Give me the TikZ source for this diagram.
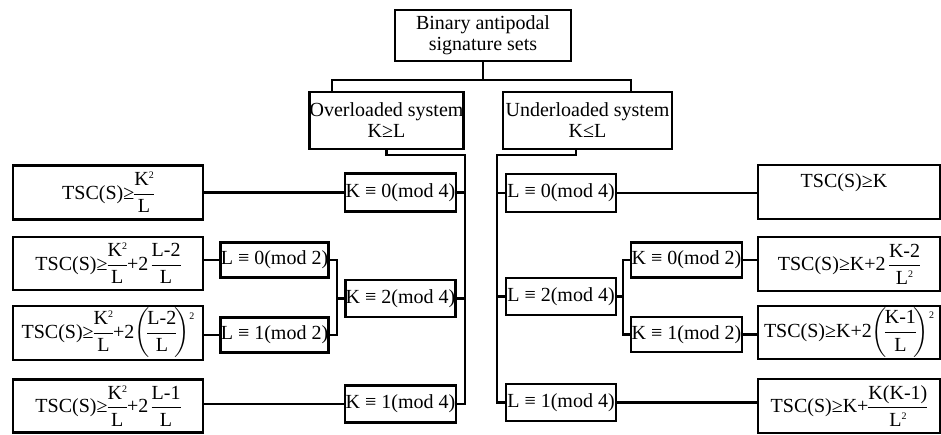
\documentclass[tikz,border=0pt]{standalone}
\usepackage{fix-cm}
\usepackage{amsmath}
\usepackage{fontspec}
\setmainfont{Liberation Serif}
\newcommand\fsz{\fontsize{20}{21}\selectfont}
\newcommand\mytx[1]{\text{#1}}
\newcommand\myfr[2]{{\dfrac{\text{#1}}{\text{#2}}}}
\newcommand\mysq{\raisebox{0.75ex}{\fontsize{10}{10}\selectfont 2}}
\newcommand\mypar[1]{{\biggl(\mkern-2mu#1\mkern-2mu\biggr)}\mbox{\raisebox{19pt}[0pt][0pt]{\fontsize{10}{10}\selectfont 2}}}
\tikzset{
  bx/.style={draw, line width=2.8pt, inner sep=0pt, align=center, font=\fsz},
  ln/.style={line width=2.8pt},
  txt/.style={inner sep=0pt, font=\fsz},
}
\begin{document}
\nulldelimiterspace=0pt
\begin{tikzpicture}[x=1pt,y=-1pt]
\useasboundingbox (0,0) rectangle (941,434);
% top level
\node[bx, minimum width=176pt, minimum height=51pt] (top) at (483,35.5) {Binary antipodal\\signature sets};
\node[bx, minimum width=151pt, minimum height=57pt] (over) at (386.5,120.5) {Overloaded system\\K≥L};
\node[bx, minimum width=169pt, minimum height=57pt] (under) at (587.5,120.5) {Underloaded system\\K≤L};
% left column
\node[bx, minimum width=190pt, minimum height=54pt] (TSC1) at (108,192.5) {$\mytx{TSC(S)≥}\myfr{K\mysq}{L}$};
\node[bx, minimum width=190pt, minimum height=53pt] (TSC2) at (108,263.5) {$\mytx{TSC(S)≥}\myfr{K\mysq}{L}\mytx{+2}\,\myfr{L-2}{L}$};
\node[bx, minimum width=190pt, minimum height=54pt] (TSC3) at (108,333) {$\mytx{TSC(S)≥}\myfr{K\mysq}{L}\mytx{+2}\mypar{\myfr{L-2}{L}}$};
\node[bx, minimum width=190pt, minimum height=53pt] (TSC4) at (108,406) {$\mytx{TSC(S)≥}\myfr{K\mysq}{L}\mytx{+2}\,\myfr{L-1}{L}$};
\node[bx, minimum width=111pt, minimum height=38pt] (K0m4) at (400.5,192.5) {K ≡ 0(mod 4)};
\node[bx, minimum width=110pt, minimum height=37pt] (K2m4) at (400.5,298.5) {K ≡ 2(mod 4)};
\node[bx, minimum width=111pt, minimum height=37pt] (K1m4) at (400.5,404) {K ≡ 1(mod 4)};
\node[bx, minimum width=107pt, minimum height=35pt] (L0m2) at (274.5,260) {L ≡ 0(mod 2)};
\node[bx, minimum width=107pt, minimum height=35pt] (L1m2) at (274.5,335) {L ≡ 1(mod 2)};
% right column
\node[bx, minimum width=110pt, minimum height=38pt] (L0m4) at (561,193) {L ≡ 0(mod 4)};
\node[bx, minimum width=110pt, minimum height=37pt] (L2m4) at (561,296.5) {L ≡ 2(mod 4)};
\node[bx, minimum width=110pt, minimum height=37pt] (L1m4) at (561,402.5) {L ≡ 1(mod 4)};
\node[bx, minimum width=111pt, minimum height=35pt] (K0m2) at (686.5,260) {K ≡ 0(mod 2)};
\node[bx, minimum width=111pt, minimum height=35pt] (K1m2) at (686.5,334.5) {K ≡ 1(mod 2)};
\node[bx, minimum width=182pt, minimum height=54pt] (R1) at (849,192) {};
\node[bx, minimum width=182pt, minimum height=54pt] (R2) at (849,264) {$\mytx{TSC(S)≥K+2}\,\myfr{K-2}{L\mysq}$};
\node[bx, minimum width=182pt, minimum height=53pt] (R3) at (849,332.5) {$\mytx{TSC(S)≥K+2}\mypar{\myfr{K-1}{L}}$};
\node[bx, minimum width=182pt, minimum height=54pt] (R4) at (849,406) {$\mytx{TSC(S)≥K+}\myfr{K(K-1)}{L\mysq}$};
\node[txt, anchor=base] (R1t) at (844,187) {TSC(S)≥K};
% connectors top
\coordinate (barM) at (483,80);
\coordinate (barL) at (332,80);
\coordinate (barR) at (631,80);
\draw[ln] (top.south) -- (barM);
\draw[ln] (barL |- over.north) -- (barL) -- (barR) -- (barR |- under.north);
% left spine
\coordinate (sL) at (465,155);
\draw[ln] (over.south) |- (sL) -- (sL |- K1m4.east) -- (K1m4.east);
\draw[ln] (K0m4.east) -- (K0m4.east -| sL);
\draw[ln] (K2m4.east) -- (K2m4.east -| sL);
\draw[ln] (K0m4.west) -- (K0m4.west -| TSC1.east);
\draw[ln] (K1m4.west) -- (K1m4.west -| TSC4.east);
\coordinate (bkL) at (337,298.5);
\draw[ln] (L0m2.east) -- (L0m2.east -| bkL) -- (L1m2.east -| bkL) -- (L1m2.east);
\draw[ln] (K2m4.west) -- (K2m4.west -| bkL);
\draw[ln] (L0m2.west) -- (L0m2.west -| TSC2.east);
\draw[ln] (L1m2.west) -- (L1m2.west -| TSC3.east);
% right spine
\coordinate (uD) at (576,155);
\coordinate (sR) at (497,155);
\draw[ln] (uD |- under.south) -- (uD) -- (sR) -- (sR |- L1m4.west) -- (L1m4.west);
\draw[ln] (L0m4.west) -- (L0m4.west -| sR);
\draw[ln] (L2m4.west) -- (L2m4.west -| sR);
\draw[ln] (L0m4.east) -- (L0m4.east -| R1.west);
\draw[ln] (L1m4.east) -- (L1m4.east -| R4.west);
\coordinate (bkR) at (623,296.5);
\draw[ln] (L2m4.east) -- (bkR);
\draw[ln] (K0m2.west) -- (K0m2.west -| bkR) -- (K1m2.west -| bkR) -- (K1m2.west);
\draw[ln] (K0m2.east) -- (K0m2.east -| R2.west);
\draw[ln] (K1m2.east) -- (K1m2.east -| R3.west);
\end{tikzpicture}
\end{document}
